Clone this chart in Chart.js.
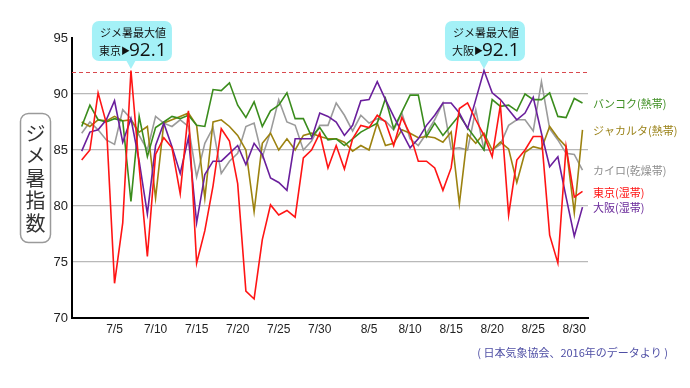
<!DOCTYPE html>
<html>
<head>
<meta charset="utf-8">
<script src="https://cdn.jsdelivr.net/npm/chart.js@4.4.1/dist/chart.umd.min.js"></script>
<style>
  html, body { margin: 0; padding: 0; background: #fff; }
  #wrap { width: 690px; height: 388px; }
</style>
</head>
<body>
<div id="wrap"><canvas id="wbgt" width="690" height="388"></canvas></div>
<script>
// 2016年 7/1〜8/31 の日別ジメ暑指数
const days = [
  "7/1","7/2","7/3","7/4","7/5","7/6","7/7","7/8","7/9","7/10",
  "7/11","7/12","7/13","7/14","7/15","7/16","7/17","7/18","7/19","7/20",
  "7/21","7/22","7/23","7/24","7/25","7/26","7/27","7/28","7/29","7/30","7/31",
  "8/1","8/2","8/3","8/4","8/5","8/6","8/7","8/8","8/9","8/10",
  "8/11","8/12","8/13","8/14","8/15","8/16","8/17","8/18","8/19","8/20",
  "8/21","8/22","8/23","8/24","8/25","8/26","8/27","8/28","8/29","8/30","8/31"
];
const tickLabels = ["7/5","7/10","7/15","7/20","7/25","7/30","8/5","8/10","8/15","8/20","8/25","8/30"];
const yTicks = [70, 75, 80, 85, 90, 95];
const threshold = 92;

const tokyo = [84.1,85.0,90.1,87.4,73.1,78.5,92.1,83.5,75.5,84.6,86.1,85.2,81.1,88.5,74.9,77.8,81.8,86.9,85.8,82.0,
  72.4,71.7,77.0,80.1,79.2,79.6,79.0,84.3,85.0,86.5,83.4,85.4,83.3,86.0,87.2,87.0,88.1,87.5,85.4,87.9,
  86.4,84.0,84.0,83.4,81.4,83.4,88.7,89.2,87.7,86.3,84.4,89.0,79.2,84.1,85.0,86.2,86.2,77.4,74.9,85.3,80.8,81.3];
const osaka = [84.9,86.6,86.8,87.7,89.4,85.7,87.8,84.0,79.3,85.4,87.4,85.3,82.9,86.1,78.5,82.8,84.0,84.0,84.7,85.4,
  83.7,85.6,84.6,82.5,82.1,81.4,86.0,86.0,86.0,88.3,88.0,87.5,86.3,87.2,89.4,89.5,91.1,89.5,88.0,86.6,
  85.2,86.0,87.2,88.1,89.2,89.2,88.3,86.9,89.5,92.1,90.1,89.5,88.6,87.7,88.3,89.7,86.5,83.5,84.4,80.8,77.3,79.9];
const bangkok = [87.1,89.0,87.7,87.5,87.8,87.6,80.4,88.0,84.4,87.0,87.5,88.0,87.8,88.1,87.2,87.1,90.4,90.3,91.0,89.0,
  87.9,89.3,87.1,88.5,89.0,90.1,87.8,87.8,86.2,87.0,85.9,86.0,85.4,86.0,86.6,87.0,87.4,89.6,86.9,88.4,
  89.9,89.9,86.2,87.4,86.3,87.2,88.1,87.0,86.0,85.0,89.5,88.9,89.0,88.5,90.0,89.5,89.5,90.1,88.0,87.9,89.6,89.2];
const jakarta = [87.5,87.1,87.7,87.6,88.0,87.6,87.7,86.6,87.1,80.7,87.4,87.7,88.0,88.3,87.2,80.7,87.5,87.7,87.1,86.3,
  85.0,79.5,85.6,86.5,85.0,86.0,85.0,86.3,86.5,86.2,86.0,86.0,85.7,84.9,85.4,85.0,87.4,85.4,85.6,86.8,
  86.5,86.1,86.2,86.1,85.7,86.6,80.2,86.4,85.6,86.5,85.0,85.7,85.1,82.1,84.8,85.3,85.1,87.1,86.1,85.3,79.4,86.8];
const cairo = [86.5,87.5,86.8,85.9,85.5,88.6,87.8,86.3,85.0,88.0,87.4,87.1,87.7,87.1,82.6,85.6,87.0,82.9,84.0,84.7,
  87.1,87.4,84.4,86.6,89.5,87.5,87.2,85.0,85.8,87.2,87.2,89.2,88.1,86.7,88.1,87.4,87.8,87.6,86.8,88.3,
  86.0,85.4,86.5,87.7,89.2,85.1,85.2,85.0,88.6,85.0,85.0,85.5,87.2,87.7,87.7,86.7,91.1,86.9,85.9,84.7,84.6,83.2];

// 描画順: 先頭が一番上
const series = [
  { label: "東京(湿帯)", data: tokyo, color: "#ff1414", labelColor: "#ff1414" },
  { label: "大阪(湿帯)", data: osaka, color: "#6a1f9c", labelColor: "#6a2a9a" },
  { label: "バンコク(熱帯)", data: bangkok, color: "#3a8c1c", labelColor: "#3f8f24" },
  { label: "ジャカルタ(熱帯)", data: jakarta, color: "#9c8210", labelColor: "#9a8218" },
  { label: "カイロ(乾燥帯)", data: cairo, color: "#9b9b9b", labelColor: "#8e8e8e" },
];
const peaks = [
  { name: "東京", data: tokyo },
  { name: "大阪", data: osaka },
];
const yTitle = "ジメ暑指数";
const sourceNote = "( 日本気象協会、2016年のデータより )";

const jpFont = "'Noto Sans CJK JP', 'Noto Sans', sans-serif";
const numFont = "'Liberation Sans Narrow', 'Liberation Sans', sans-serif";

const thresholdLine = {
  id: "thresholdLine",
  beforeDatasetsDraw(chart) {
    const { ctx, chartArea: { left, right }, scales: { y } } = chart;
    const py = Math.round(y.getPixelForValue(threshold)) + 0.5;
    ctx.save();
    ctx.strokeStyle = "#d9494e";
    ctx.lineWidth = 1;
    ctx.setLineDash([4, 3]);
    ctx.beginPath();
    ctx.moveTo(left, py);
    ctx.lineTo(right, py);
    ctx.stroke();
    ctx.restore();
  },
};

const decorations = {
  id: "decorations",
  afterDraw(chart) {
    const { ctx, chartArea: { right }, scales: { x, y } } = chart;
    ctx.save();

    // y軸タイトル(縦書き枠)
    ctx.strokeStyle = "#9a9a9a";
    ctx.lineWidth = 1.5;
    ctx.beginPath();
    ctx.roundRect(20.5, 113.5, 30, 129, 8);
    ctx.stroke();
    ctx.fillStyle = "#333";
    ctx.font = "20px " + jpFont;
    ctx.textAlign = "center";
    ctx.textBaseline = "middle";
    [...yTitle].forEach((ch, i) => ctx.fillText(ch, 35.5, 133 + i * 22.5));

    // 右側の系列ラベル
    ctx.font = "11px " + jpFont;
    ctx.textAlign = "left";
    series.forEach((s) => {
      const last = s.data[s.data.length - 1];
      ctx.fillStyle = s.labelColor;
      ctx.fillText(s.label, right + 5, y.getPixelForValue(last) + 1);
    });

    // 最大値の吹き出し
    peaks.forEach((p) => {
      const maxV = Math.max(...p.data);
      const idx = p.data.indexOf(maxV);
      const px = x.getPixelForValue(idx);
      const bx = px - 39, by = 21, bw = 80, bh = 40;
      ctx.fillStyle = "#a4f1f7";
      ctx.beginPath();
      ctx.roundRect(bx, by, bw, bh, 7);
      ctx.fill();
      ctx.beginPath();
      ctx.moveTo(px - 5, by + bh - 1);
      ctx.lineTo(px + 5, by + bh - 1);
      ctx.lineTo(px, by + bh + 8);
      ctx.closePath();
      ctx.fill();
      ctx.fillStyle = "#111";
      ctx.textBaseline = "alphabetic";
      ctx.textAlign = "left";
      ctx.font = "11px " + jpFont;
      ctx.fillText("ジメ暑最大値", bx + 8, by + 16);
      ctx.fillText(p.name, bx + 7, by + 34);
      const nw = ctx.measureText(p.name).width;
      ctx.font = "9px " + jpFont;
      ctx.fillText("▶", bx + 7 + nw, by + 33);
      ctx.font = "19px 'Open Sans', sans-serif";
      ctx.fillText(maxV.toFixed(1), bx + 7 + nw + 8, by + 35);
    });

    // 出典
    ctx.fillStyle = "#4f4fa5";
    ctx.font = "11px " + jpFont;
    ctx.textAlign = "right";
    ctx.textBaseline = "middle";
    ctx.fillText(sourceNote, 668, 353);
    ctx.restore();
  },
};

const datasets = series.map((s) => ({
  label: s.label,
  data: s.data.map((v, i) => ({ x: i, y: v })),
  borderColor: s.color,
  backgroundColor: s.color,
  borderWidth: 1.6,
  pointRadius: 0,
  tension: 0,
  fill: false,
}));

new Chart(document.getElementById("wbgt"), {
  type: "line",
  data: { datasets },
  options: {
    responsive: false,
    animation: false,
    layout: { padding: { top: 38, right: 102, bottom: 0, left: 0 } },
    plugins: {
      legend: { display: false },
      tooltip: { enabled: false },
    },
    scales: {
      x: {
        type: "linear",
        min: -1.18,
        max: 61.67,
        afterFit(scale) { scale.height = 70; },
        afterBuildTicks(scale) {
          scale.ticks = tickLabels.map((l) => ({ value: days.indexOf(l) }));
        },
        ticks: {
          autoSkip: false,
          maxRotation: 0,
          padding: 4,
          color: "#222",
          font: { family: numFont, size: 12 },
          callback: (v) => days[v],
        },
        grid: { display: false, drawTicks: false },
        border: { display: true, color: "#000", width: 2 },
      },
      y: {
        min: 70,
        max: 95,
        afterFit(scale) { scale.width = 72; },
        afterBuildTicks(scale) {
          scale.ticks = yTicks.map((v) => ({ value: v }));
        },
        ticks: {
          padding: 4,
          color: "#222",
          font: { family: numFont, size: 13 },
        },
        grid: {
          drawTicks: false,
          lineWidth: 1.2,
          color: (c) => (c.tick && c.tick.value > 70 && c.tick.value < 95 ? "#b9b9b9" : "rgba(0,0,0,0)"),
        },
        border: { display: true, color: "#000", width: 2 },
      },
    },
  },
  plugins: [thresholdLine, decorations],
});
</script>
</body>
</html>
